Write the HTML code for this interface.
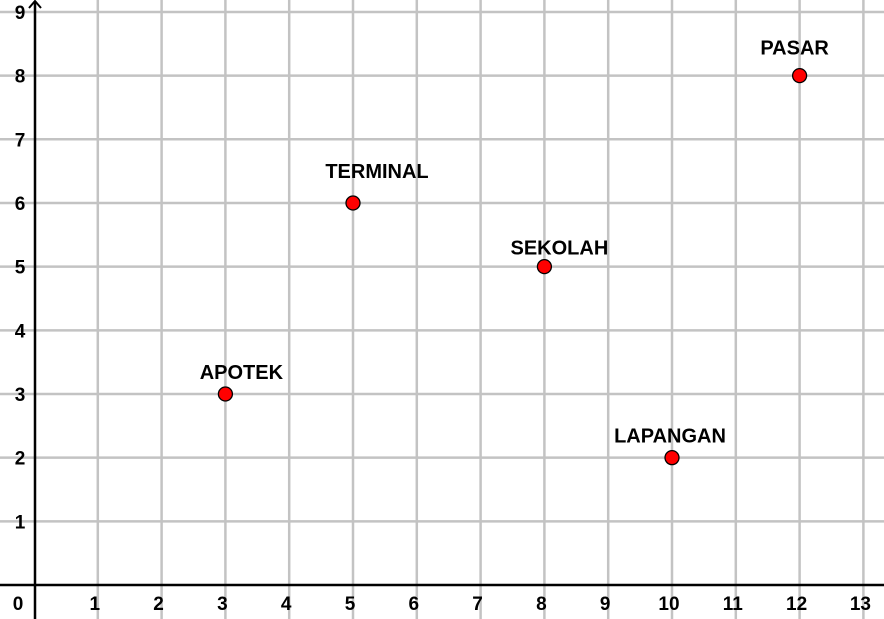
<!DOCTYPE html>
<html><head><meta charset="utf-8"><style>
body{margin:0;background:#fff;}
svg{display:block;font-family:"Liberation Sans",sans-serif;}
</style></head><body>
<svg id="chart" width="884" height="619" viewBox="0 0 884 619"></svg>
<script>
const xTicks=[1,2,3,4,5,6,7,8,9,10,11,12,13];
const yTicks=[1,2,3,4,5,6,7,8,9];
const names=["APOTEK","TERMINAL","SEKOLAH","LAPANGAN","PASAR"];
const xs=[3,5,8,10,12];
const ys=[3,6,5,2,8];
const NS="http://www.w3.org/2000/svg";
const svg=document.getElementById('chart');
const X=v=>34+v*63.8;
const Y=v=>585-v*63.67;
const ldx=[16,24,15,-2,-5];
const ldy=[-15,-25,-12,-15,-21];
function mk(t,a){const e=document.createElementNS(NS,t);for(const k in a)e.setAttribute(k,a[k]);svg.appendChild(e);return e;}
xTicks.forEach(v=>{const l=mk('line',{x1:X(v),x2:X(v),y1:0,y2:619,stroke:'#c3c3c3','stroke-width':2.5});

});
yTicks.forEach(v=>{const l=mk('line',{x1:0,x2:884,y1:Y(v),y2:Y(v),stroke:'#c3c3c3','stroke-width':2.5});

});
const xa=mk('line',{x1:0,x2:884,y1:585,y2:585,stroke:'#000','stroke-width':2.5});


const ya=mk('line',{x1:35,x2:35,y1:1,y2:619,stroke:'#000','stroke-width':2.5});


const ar=mk('polyline',{points:'29,8 35,1 41,8',fill:'none',stroke:'#000','stroke-width':2});


const z=mk('text',{x:18,y:610,'font-size':19,'font-weight':'bold','text-anchor':'middle'});z.textContent='0';


xTicks.forEach(v=>{const t=mk('text',{x:X(v)-3,y:610,'font-size':19,'font-weight':'bold','text-anchor':'middle'});t.textContent=v;

});
yTicks.forEach(v=>{const t=mk('text',{x:20,y:Y(v)+7,'font-size':19,'font-weight':'bold','text-anchor':'middle'});t.textContent=v;

});
names.forEach((n,i)=>{
const c=mk('circle',{cx:X(xs[i]),cy:Y(ys[i]),r:7,fill:'#ff0000',stroke:'#000','stroke-width':1.3});


const t=mk('text',{x:X(xs[i])+ldx[i],y:Y(ys[i])+ldy[i],'font-size':20,'font-weight':'bold','text-anchor':'middle'});t.textContent=n;


});
</script>
</body></html>
